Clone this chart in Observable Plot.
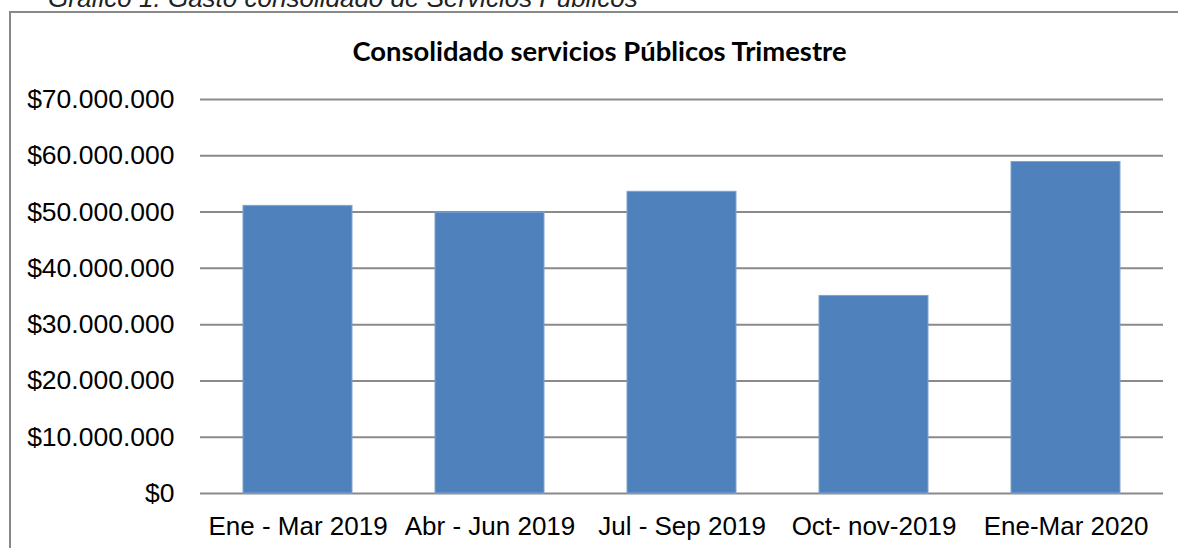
<!DOCTYPE html>
<html><head><meta charset="utf-8">
<script src="https://cdn.jsdelivr.net/npm/d3@7"></script>
<script src="https://cdn.jsdelivr.net/npm/@observablehq/plot@0.6"></script>
<style>
body{margin:0;background:#fff;}
#wrap{position:relative;width:1178px;height:548px;overflow:hidden;background:#fff;}
#frame{position:absolute;left:9px;top:11px;width:1220px;height:620px;border:2px solid #888;box-sizing:border-box;}
#caption{position:absolute;left:48px;top:-15px;font:italic 26px "Liberation Sans",Arial,sans-serif;line-height:1;color:#222;white-space:nowrap;}
#title{position:absolute;left:0;top:37px;width:1200px;text-align:center;font:bold 27px Lato,"Open Sans",sans-serif;line-height:1;white-space:nowrap;}
#title span{display:inline-block;transform-origin:center;}
#chart{position:absolute;left:0;top:0;}
</style></head>
<body>
<div id="wrap">
  <div id="caption">Gráfico 1. Gasto consolidado de Servicios Públicos</div>
  <div id="frame"></div>
  <div id="chart"></div>
  <div id="title"><span>Consolidado servicios Públicos Trimestre</span></div>
</div>
<script>
const categories = ["Ene - Mar 2019", "Abr - Jun 2019", "Jul - Sep 2019", "Oct- nov-2019", "Ene-Mar 2020"];
const values = [51100000, 49900000, 53600000, 35100000, 58900000];
const yTicks = [0, 10000000, 20000000, 30000000, 40000000, 50000000, 60000000, 70000000];

const data = categories.map((c, i) => ({cat: c, val: values[i]}));
const fmt = d => "$" + d3.format(",")(d).replace(/,/g, ".");

const plot = Plot.plot({
  width: 1178,
  height: 548,
  marginLeft: 200,
  marginRight: 15,
  marginTop: 99,
  marginBottom: 55,
  style: {fontFamily: '"Liberation Sans", Arial, sans-serif', background: "transparent", color: "#000"},
  x: {domain: categories, paddingInner: 0.43, paddingOuter: 0.215, label: null},
  y: {domain: [0, 70000000], label: null},
  marks: [
    Plot.ruleY(yTicks, {stroke: "#8a8a8a", strokeWidth: 2}),
    Plot.barY(data, {x: "cat", y: "val", fill: "#4F81BD", stroke: "#7FA3D0", strokeWidth: 1}),
    Plot.axisY(yTicks, {tickSize: 0, tickPadding: 26, tickFormat: fmt, fontSize: 26.5, label: null}),
    Plot.axisX({tickSize: 0, tickPadding: 23, fontSize: 26, label: null})
  ]
});
document.getElementById("chart").appendChild(plot);

// fit title width
const span = document.querySelector("#title span");
const w = span.getBoundingClientRect().width;
span.style.transform = `scaleX(${494 / w})`;
</script>
</body></html>
